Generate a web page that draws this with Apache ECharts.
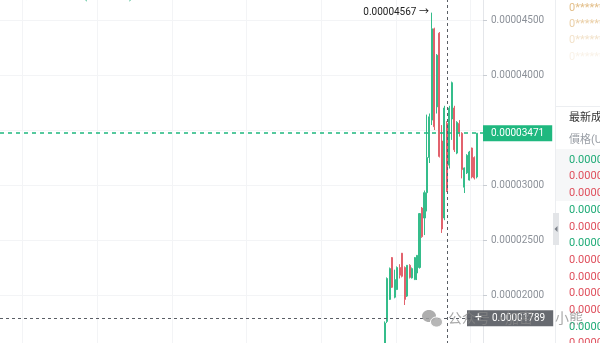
<!DOCTYPE html>
<html><head><meta charset="utf-8">
<script src="https://cdn.jsdelivr.net/npm/echarts@6/dist/echarts.min.js"></script>
<style>html,body{margin:0;padding:0;background:#fff;overflow:hidden}#c{width:600px;height:343px}</style>
</head><body><div id="c"></div>
<script>
// ---- data ----
const categoryCount = 194;
const firstCandleIndex = 154;
const openPrices  = [0.00001500,0.00001760,0.00001960,0.00002340,0.00001980,0.00002050,0.00002250,0.00002380,0.00002250,0.00001990,0.00002270,0.00002155,0.00002140,0.00002200,0.00002250,0.00002790,0.00002700,0.00002930,0.00003250,0.00003590,0.00004420,0.00003710,0.00004380,0.00003400,0.00002700,0.00003560,0.00003180,0.00003600,0.00003700,0.00003290,0.00003560,0.00003470,0.00002980,0.00003110,0.00003045,0.00003336,0.00003250,0.00003073];
const closePrices = [0.00001745,0.00002150,0.00002240,0.00002070,0.00002140,0.00002250,0.00002180,0.00002170,0.00001960,0.00002270,0.00002160,0.00002240,0.00002340,0.00002360,0.00002740,0.00002530,0.00002930,0.00003250,0.00003620,0.00004420,0.00003530,0.00004180,0.00003260,0.00002600,0.00003700,0.00002950,0.00003700,0.00003930,0.00003320,0.00003570,0.00003470,0.00003140,0.00003155,0.00003270,0.00003300,0.00003073,0.00003064,0.00003471];
const lowPrices   = [0.00001480,0.00001745,0.00001955,0.00002064,0.00001970,0.00002045,0.00002150,0.00002160,0.00001909,0.00001982,0.00002150,0.00002150,0.00002136,0.00002136,0.00002240,0.00002520,0.00002545,0.00002760,0.00003200,0.00003545,0.00003500,0.00003650,0.00003250,0.00002564,0.00002680,0.00002936,0.00003150,0.00003410,0.00003300,0.00003280,0.00003440,0.00003060,0.00002927,0.00003100,0.00003040,0.00003060,0.00003050,0.00003060];
const highPrices  = [0.00001760,0.00002160,0.00002250,0.00002345,0.00002230,0.00002260,0.00002280,0.00002382,0.00002260,0.00002273,0.00002280,0.00002250,0.00002345,0.00002364,0.00002745,0.00002800,0.00002950,0.00003640,0.00003650,0.00004567,0.00004430,0.00004190,0.00004390,0.00003545,0.00003720,0.00003580,0.00003720,0.00003940,0.00003720,0.00003580,0.00003590,0.00003480,0.00003160,0.00003280,0.00003310,0.00003340,0.00003260,0.00003471];
const lastPrice = 0.00003471;
const crosshairPrice = 0.00001789;
const crosshairIndex = 179;
const yMin = 0.000015, yMax = 0.00005, yStep = 0.000005;
const splitStart = 9, splitEvery = 30;
const headerParts = [['000 ','g'],['漲跌幅:','n'],['10.95%(0.000034)','g'],[' 振幅:','n'],['14.98%','g']];
const maskedRows = ['0*******','0*******','0*******','0*******'];
const bookTitle = '最新成交';
const bookHeader = '價格(USDT)';
const bookSides = ['u','d','d','u','d','u','d','d','d','d','u','d'];
const bookPrices = ['0.00003471','0.00003465','0.00003460','0.00003471','0.00003458','0.00003470','0.00003455','0.00003450','0.00003452','0.00003449','0.00003470','0.00003448'];

// ---- build ----
const UP = '#35bd8b', DOWN = '#e2626d', LAST = '#1fb87f', CROSS = '#5a5e65';
const FONT = 'Roboto, "Noto Sans CJK TC", sans-serif';
const categories = [];
const candleData = [];
for (let i = 0; i < categoryCount; i++) {
  categories.push(String(i));
  const k = i - firstCandleIndex;
  if (k >= 0 && k < openPrices.length) candleData.push([openPrices[k], closePrices[k], lowPrices[k], highPrices[k]]);
  else candleData.push(['-', '-', '-', '-']);
}

const graphics = [];
let hx = 0;
headerParts.forEach(([t, c]) => {
  graphics.push({type:'text', x:hx, y:-8, style:{text:t, fill: c==='g' ? '#25b07c' : '#9aa0a8', font:'10px ' + FONT}});
  hx += t.length * (/[\u4e00-\u9fff]/.test(t) ? 7.5 : 5.3);
});
graphics.push({type:'line', shape:{x1:555.5,y1:0,x2:555.5,y2:343}, style:{stroke:'#eceef1',lineWidth:1}});
const maskOps = [1, 0.75, 0.45, 0.2];
maskedRows.forEach((t, i) => graphics.push({type:'text', x:569, y:8 + i*16.3, style:{text:t, fill:'#e3bf8a', opacity:maskOps[i], font:'11px ' + FONT, verticalAlign:'middle'}}));
graphics.push({type:'line', shape:{x1:556,y1:106.5,x2:600,y2:106.5}, style:{stroke:'#eceef1'}});
graphics.push({type:'text', x:569, y:118, style:{text:bookTitle, fill:'#333', font:'11px ' + FONT, verticalAlign:'middle'}});
graphics.push({type:'text', x:569, y:140, style:{text:bookHeader, fill:'#9a9fa6', font:'11px ' + FONT, verticalAlign:'middle'}});
graphics.push({type:'rect', shape:{x:556,y:149,width:44,height:52}, style:{fill:'#f6f7f8'}});
bookPrices.forEach((t, i) => graphics.push({type:'text', x:569, y:160 + i*16.7, style:{text:t, fill: bookSides[i]==='u' ? '#1fab77' : '#df4f5c', font:'11px ' + FONT, verticalAlign:'middle'}}));
graphics.push({type:'rect', shape:{x:553,y:213,width:6,height:32}, style:{fill:'#e3e5e8'}});
graphics.push({type:'polygon', shape:{points:[[557.5,226],[557.5,232],[554.5,229]]}, style:{fill:'#7d828a'}});
const wm = 'rgba(135,135,135,0.72)';
graphics.push({type:'ellipse', z:100, shape:{cx:429,cy:316,rx:7,ry:6}, style:{fill:'rgba(160,160,160,0.85)'}});
graphics.push({type:'ellipse', z:101, shape:{cx:436.5,cy:322,rx:6,ry:5}, style:{fill:'rgba(175,175,175,0.9)', stroke:'#fff', lineWidth:1}});
graphics.push({type:'text', z:100, x:448, y:318, style:{text:'公众号', fill:wm, font:'14px "Noto Sans CJK SC"', verticalAlign:'middle'}});
graphics.push({type:'text', z:100, x:494, y:318, style:{text:'·', fill:wm, font:'14px "Noto Sans CJK SC"', verticalAlign:'middle'}});
graphics.push({type:'text', z:100, x:505, y:318, style:{text:'加密', fill:wm, font:'14px "Noto Sans CJK SC"', verticalAlign:'middle'}});
graphics.push({type:'text', z:100, x:555, y:318, style:{text:'小熊', fill:wm, font:'14px "Noto Sans CJK SC"', verticalAlign:'middle'}});

const emptyData = categories.map(() => '-');

const chart = echarts.init(document.getElementById('c'), null, {renderer:'canvas'});
chart.setOption({
  animation: false,
  backgroundColor: '#fff',
  grid: {left: 0, right: 117, top: -35, bottom: -7, containLabel: false, outerBoundsMode: 'none'},
  xAxis: {
    type: 'category', data: categories, boundaryGap: true,
    axisLine: {show:false}, axisTick: {show:false}, axisLabel: {show:false},
    splitLine: {show:true, interval: (i) => i >= splitStart && (i - splitStart) % splitEvery === 0, lineStyle:{color:'#f3f4f6', width:1}}
  },
  yAxis: {
    type: 'value', position: 'right', min: yMin, max: yMax, interval: yStep, scale: true,
    axisLine: {show:true, lineStyle:{color:'#e4e6ea'}},
    axisTick: {show:true, length:4, lineStyle:{color:'#c9cdd3'}},
    axisLabel: {margin:8, color:'#8c9199', fontSize:10, fontFamily:FONT,
      formatter: (v) => Math.abs(v - lastPrice) < 0.0000012 ? '' : v.toFixed(8)},
    splitLine: {show:true, lineStyle:{color:'#f3f4f6'}}
  },
  graphic: graphics,
  series: [
    {
      type: 'candlestick', data: candleData, barWidth: '62%', z: 3,
      itemStyle: {color: UP, color0: DOWN, borderColor: UP, borderColor0: DOWN, borderWidth: 1},
      markPoint: {
        symbol: 'circle', symbolSize: 0, silent: true,
        data: [{type:'max', valueDim:'highest'}],
        label: {show:true, position:'left', distance:3, color:'#222', fontSize:10, fontFamily:FONT,
          formatter: (p) => Number(p.value).toFixed(8) + ' →'}
      }
    },
    {
      type: 'line', data: emptyData, silent: true, z: 4, showSymbol: false,
      lineStyle: {color: LAST}, itemStyle: {color: LAST},
      markLine: {
        symbol: ['none','none'], silent: true, precision: 10,
        lineStyle: {color: LAST, type: [4,4], width: 1.6, opacity: 1},
        label: {show:true, position:'end', distance:0, color:'#fff', backgroundColor: LAST,
          padding:[3,8,3,8], fontSize:10, fontFamily:FONT, formatter: (p) => Number(p.value).toFixed(8)},
        data: [{yAxis: lastPrice}]
      }
    },
    {
      type: 'line', data: emptyData, silent: true, z: 4, showSymbol: false,
      lineStyle: {color: CROSS}, itemStyle: {color: CROSS},
      markLine: {
        symbol: ['none','none'], silent: true, precision: 10,
        lineStyle: {color: CROSS, type: [3,3], width: 1, opacity: 1},
        data: [
          {yAxis: crosshairPrice,
            label:{show:true, position:'end', distance:-16, formatter: (p) => '{p|+}{v|' + Number(p.value).toFixed(8) + '}',
              backgroundColor:'rgba(86,90,97,0.9)', padding:[3,8,3,8],
              rich:{p:{width:17, color:'#fff', fontSize:12, lineHeight:10, fontFamily:FONT}, v:{color:'#fff', fontSize:10, lineHeight:10, fontFamily:FONT}}}},
          {xAxis: categories[crosshairIndex], label:{show:false}}
        ]
      }
    }
  ]
});
</script></body></html>
